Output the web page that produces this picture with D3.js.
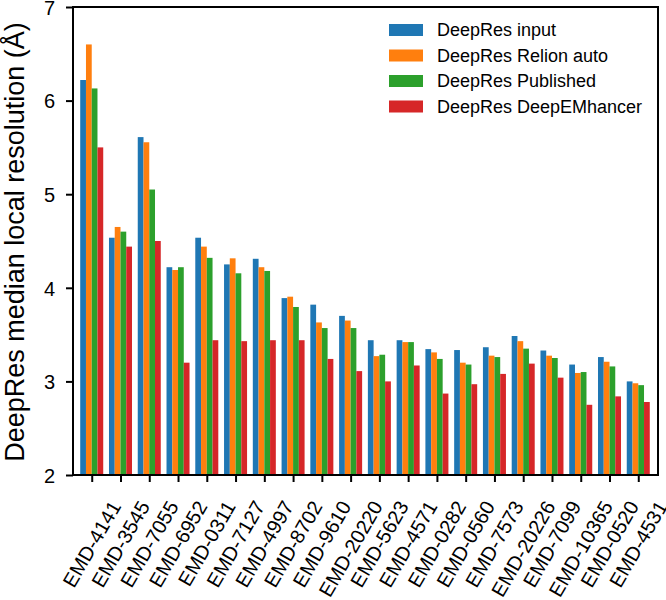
<!DOCTYPE html>
<html>
<head>
<meta charset="utf-8">
<script src="https://cdn.jsdelivr.net/npm/d3@7"></script>
<style>
  body { margin: 0; background: #fff; }
  svg text { font-family: "Liberation Sans", Arial, sans-serif; fill: #000; }
</style>
</head>
<body>
<div id="chart"></div>
<script>
// data
var categories = ["EMD-4141","EMD-3545","EMD-7055","EMD-6952","EMD-0311","EMD-7127","EMD-4997",
  "EMD-8702","EMD-9610","EMD-20220","EMD-5623","EMD-4571","EMD-0282","EMD-0560","EMD-7573",
  "EMD-20226","EMD-7099","EMD-10365","EMD-0520","EMD-4531"];
var inputRes     = [6.22, 4.535, 5.61, 4.22, 4.535, 4.25, 4.31, 3.89, 3.82, 3.70, 3.44, 3.44, 3.345, 3.335, 3.365, 3.485, 3.33, 3.18, 3.26, 3.00];
var relionRes    = [6.60, 4.65, 5.555, 4.19, 4.44, 4.315, 4.22, 3.905, 3.63, 3.65, 3.27, 3.42, 3.31, 3.20, 3.275, 3.43, 3.275, 3.09, 3.21, 2.98];
var publishedRes = [6.13, 4.60, 5.05, 4.22, 4.32, 4.155, 4.18, 3.795, 3.57, 3.57, 3.285, 3.42, 3.24, 3.18, 3.26, 3.35, 3.25, 3.10, 3.16, 2.96];
var deepemRes    = [5.50, 4.44, 4.50, 3.20, 3.44, 3.43, 3.44, 3.44, 3.24, 3.11, 3.00, 3.17, 2.87, 2.97, 3.08, 3.19, 3.04, 2.75, 2.84, 2.78];
var seriesNames  = ["DeepRes input", "DeepRes Relion auto", "DeepRes Published", "DeepRes DeepEMhancer"];
var yTicks = [2, 3, 4, 5, 6, 7];

var series = [inputRes, relionRes, publishedRes, deepemRes];
var colors = ["#1f77b4", "#ff7f0e", "#2ca02c", "#d62728"];

var W = 666, H = 600;
var plot = {left: 73, right: 658, top: 7, bottom: 475};
var barW = 0.2;

var svg = d3.select("#chart").append("svg")
    .attr("width", W)
    .attr("height", H);

var x = d3.scaleLinear().domain([-0.651, 19.686]).range([plot.left, plot.right]);
var y = d3.scaleLinear().domain([2, 7]).range([plot.bottom, plot.top]);

// bars
series.forEach(function(vals, k) {
  svg.append("g")
    .selectAll("rect")
    .data(vals)
    .enter().append("rect")
      .attr("x", function(d, i) { return x(i + (k - 2) * barW); })
      .attr("width", x(barW) - x(0))
      .attr("y", function(d) { return y(d); })
      .attr("height", function(d) { return y(2) - y(d); })
      .attr("fill", colors[k]);
});

// y axis
var yAxis = d3.axisLeft(y)
    .tickValues(yTicks)
    .tickSize(7)
    .tickSizeOuter(0)
    .tickPadding(11)
    .tickFormat(d3.format("d"));

var gy = svg.append("g")
    .attr("transform", "translate(" + plot.left + ",0)")
    .call(yAxis);
gy.select(".domain").remove();
gy.selectAll("line").attr("stroke", "#000").attr("stroke-width", 2);
gy.selectAll("text").attr("font-size", "20px").attr("dy", "0.36em");

// x axis
var xAxis = d3.axisBottom(x)
    .tickValues(d3.range(categories.length))
    .tickSize(7)
    .tickSizeOuter(0)
    .tickFormat("");

var gx = svg.append("g")
    .attr("transform", "translate(0," + plot.bottom + ")")
    .call(xAxis);
gx.select(".domain").remove();
gx.selectAll("line").attr("stroke", "#000").attr("stroke-width", 2);

// rotated category labels, centred under each tick
var labelTop = 499;
var sin60 = Math.sin(Math.PI / 3), cos60 = 0.5;
svg.append("g").selectAll("text")
  .data(categories)
  .enter().append("text")
    .attr("font-size", "20px")
    .attr("text-anchor", "middle")
    .attr("dominant-baseline", "central")
    .text(function(d) { return d; })
    .each(function(d, i) {
      var w = this.getComputedTextLength();
      var h = 14.5;
      var bh = w * sin60 + h * cos60;
      d3.select(this).attr("transform",
        "translate(" + x(i) + "," + (labelTop + bh / 2) + ") rotate(-60)");
    });

// frame
svg.append("rect")
  .attr("x", plot.left)
  .attr("y", plot.top)
  .attr("width", plot.right - plot.left)
  .attr("height", plot.bottom - plot.top)
  .attr("fill", "none")
  .attr("stroke", "#000")
  .attr("stroke-width", 2);

// y label
svg.append("text")
  .attr("transform", "translate(24," + ((plot.top + plot.bottom) / 2 + 1) + ") rotate(-90)")
  .attr("text-anchor", "middle")
  .attr("font-size", "27px")
  .text("DeepRes median local resolution (Å)");

// legend
var legend = svg.append("g");
seriesNames.forEach(function(name, k) {
  var cy = 30 + k * 25.5;
  legend.append("rect")
    .attr("x", 389)
    .attr("y", cy - 6)
    .attr("width", 34)
    .attr("height", 12)
    .attr("fill", colors[k]);
  legend.append("text")
    .attr("x", 437)
    .attr("y", cy)
    .attr("dy", "0.35em")
    .attr("font-size", "18px")
    .text(name);
});
</script>
</body>
</html>
